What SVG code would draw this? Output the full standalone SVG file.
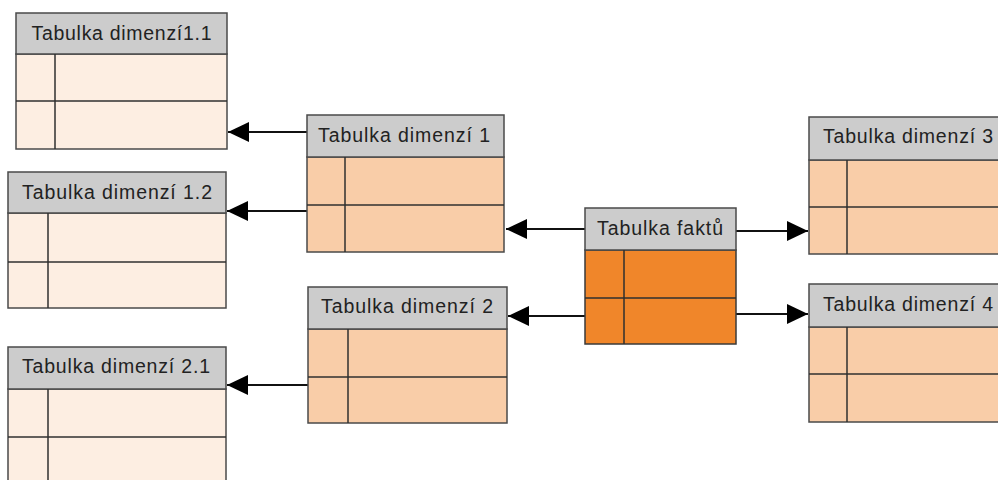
<svg xmlns="http://www.w3.org/2000/svg" width="998" height="480" viewBox="0 0 998 480">
<defs>
<style>
.hdr{fill:#cccccc;stroke:#4a4a4a;stroke-width:1.5}
.light{fill:#fdeee2;stroke:#4a4a4a;stroke-width:1.5}
.mid{fill:#f9cda8;stroke:#4a4a4a;stroke-width:1.5}
.fact{fill:#f0862a;stroke:#3a3a3a;stroke-width:1.5}
.ln{stroke:#2f2f2f;stroke-width:1.5;fill:none}
.t{font-family:"Liberation Sans",Arial,sans-serif;font-size:19.5px;fill:#222}
.c{stroke:#111;stroke-width:2;fill:none;marker-end:url(#ah)}
</style>
<marker id="ah" viewBox="0 0 21 20" refX="21" refY="10" markerWidth="21" markerHeight="20" markerUnits="userSpaceOnUse" orient="auto">
<path d="M0,0 L21,10 L0,20 z" fill="#000"/>
</marker>
</defs>
<rect width="998" height="480" fill="#fff"/>

<g id="connectors">
<path class="c" d="M307,132 H228"/>
<path class="c" d="M307,211 H227"/>
<path class="c" d="M308,385 H227"/>
<path class="c" d="M585,229 H506"/>
<path class="c" d="M585,316 H508"/>
<path class="c" d="M736,231 H808"/>
<path class="c" d="M736,314 H808"/>
</g>

<g id="dim11">
<rect class="light" x="16" y="54" width="211" height="95"/>
<rect class="hdr" x="16" y="13" width="211" height="41"/>
<line class="ln" x1="16" y1="101" x2="227" y2="101"/>
<line class="ln" x1="55" y1="54" x2="55" y2="149"/>
<text class="t" x="121.5" y="40" text-anchor="middle" textLength="180" lengthAdjust="spacing">Tabulka dimenzí1.1</text>
</g>

<g id="dim12">
<rect class="light" x="8" y="213" width="218" height="95"/>
<rect class="hdr" x="8" y="172" width="218" height="41"/>
<line class="ln" x1="8" y1="262" x2="226" y2="262"/>
<line class="ln" x1="48" y1="213" x2="48" y2="308"/>
<text class="t" x="117" y="199" text-anchor="middle" textLength="190" lengthAdjust="spacing">Tabulka dimenzí 1.2</text>
</g>

<g id="dim21">
<rect class="light" x="8" y="389" width="218" height="100"/>
<rect class="hdr" x="8" y="347" width="218" height="42"/>
<line class="ln" x1="8" y1="437" x2="226" y2="437"/>
<line class="ln" x1="48" y1="389" x2="48" y2="480"/>
<text class="t" x="116" y="373" text-anchor="middle" textLength="188" lengthAdjust="spacing">Tabulka dimenzí 2.1</text>
</g>

<g id="dim1">
<rect class="mid" x="307" y="157" width="197" height="95"/>
<rect class="hdr" x="307" y="115" width="197" height="42"/>
<line class="ln" x1="307" y1="205" x2="504" y2="205"/>
<line class="ln" x1="345" y1="157" x2="345" y2="252"/>
<text class="t" x="404" y="142" text-anchor="middle" textLength="172" lengthAdjust="spacing">Tabulka dimenzí 1</text>
</g>

<g id="dim2">
<rect class="mid" x="308" y="329" width="199" height="94"/>
<rect class="hdr" x="308" y="287" width="199" height="42"/>
<line class="ln" x1="308" y1="377" x2="507" y2="377"/>
<line class="ln" x1="348" y1="329" x2="348" y2="423"/>
<text class="t" x="407" y="313" text-anchor="middle" textLength="172" lengthAdjust="spacing">Tabulka dimenzí 2</text>
</g>

<g id="fact">
<rect class="fact" x="585" y="250" width="151" height="94"/>
<rect class="hdr" x="585" y="208" width="151" height="42"/>
<line class="ln" x1="585" y1="298" x2="736" y2="298"/>
<line class="ln" x1="624" y1="250" x2="624" y2="344"/>
<text class="t" x="660" y="235" text-anchor="middle" textLength="126" lengthAdjust="spacing">Tabulka faktů</text>
</g>

<g id="dim3">
<rect class="mid" x="809" y="160" width="200" height="94"/>
<rect class="hdr" x="809" y="117" width="200" height="43"/>
<line class="ln" x1="809" y1="207" x2="998" y2="207"/>
<line class="ln" x1="847" y1="160" x2="847" y2="254"/>
<text class="t" x="823" y="143" textLength="170" lengthAdjust="spacing">Tabulka dimenzí 3</text>
</g>

<g id="dim4">
<rect class="mid" x="809" y="327" width="200" height="95"/>
<rect class="hdr" x="809" y="284" width="200" height="43"/>
<line class="ln" x1="809" y1="374" x2="998" y2="374"/>
<line class="ln" x1="847" y1="327" x2="847" y2="422"/>
<text class="t" x="823" y="311" textLength="170" lengthAdjust="spacing">Tabulka dimenzí 4</text>
</g>
</svg>
